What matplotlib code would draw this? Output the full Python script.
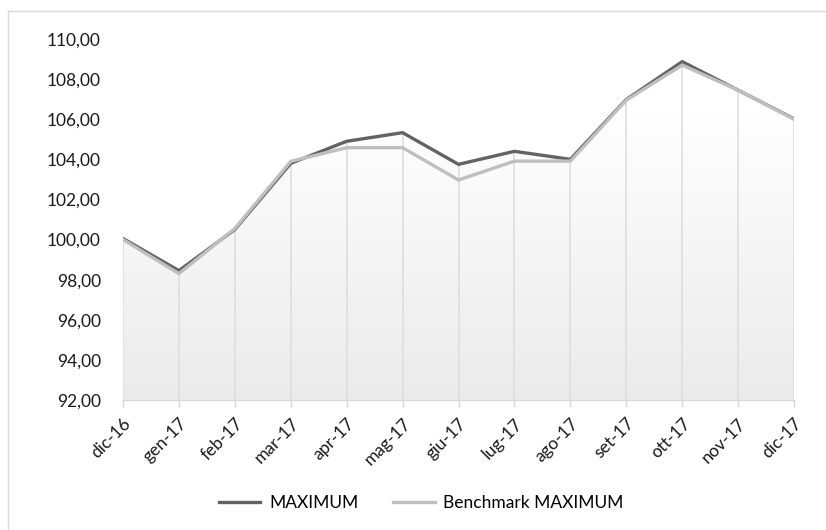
import matplotlib
matplotlib.use("Agg")
import matplotlib.pyplot as plt
import numpy as np
from matplotlib.colors import LinearSegmentedColormap
from matplotlib.lines import Line2D

categories = ["dic-16", "gen-17", "feb-17", "mar-17", "apr-17", "mag-17", "giu-17",
              "lug-17", "ago-17", "set-17", "ott-17", "nov-17", "dic-17"]
maximum = [100.05, 98.45, 100.50, 103.80, 104.90, 105.33, 103.75,
           104.40, 104.00, 106.98, 108.87, 107.45, 106.02]
benchmark = [100.00, 98.30, 100.55, 103.90, 104.58, 104.58, 102.97,
             103.91, 103.91, 106.95, 108.70, 107.45, 106.00]
yticks = [92, 94, 96, 98, 100, 102, 104, 106, 108, 110]

plt.rcParams['font.family'] = ['Lato', 'DejaVu Sans']

fig = plt.figure(figsize=(8.26, 5.30), dpi=100)
ax = fig.add_axes([0.1489, 0.2453, 0.9613 - 0.1489, 0.9264 - 0.2453])

x = np.arange(len(categories))
ax.set_xlim(x[0], x[-1])
ax.set_ylim(92, 110)

# gradient area under the lines
top = np.maximum(maximum, benchmark)
poly = ax.fill_between(x, top, 92, color='none', lw=0)
cmap = LinearSegmentedColormap.from_list('g', ['#ffffff', '#ebebeb'])
grad = np.linspace(0, 1, 256).reshape(-1, 1)
img = ax.imshow(grad, extent=[x[0], x[-1], 92, 106.5], origin='upper', cmap=cmap,
                aspect='auto', zorder=1)
img.set_clip_path(poly.get_paths()[0], transform=ax.transData)

# drop lines
for xi, ti in zip(x, top):
    ax.plot([xi, xi], [92, ti], color='#dedede', lw=1.2, zorder=2)

ax.plot(x, maximum, color='#636363', lw=2.4, zorder=3, solid_joinstyle='miter')
ax.plot(x, benchmark, color='#bfbfbf', lw=2.4, zorder=4, solid_joinstyle='miter')

for s in ['top', 'right', 'left']:
    ax.spines[s].set_visible(False)
ax.spines['bottom'].set_color('#d9d9d9')
ax.spines['bottom'].set_linewidth(1.0)
ax.spines['bottom'].set_zorder(5)

ax.set_yticks(yticks)
ax.set_yticklabels([f"{v:.2f}".replace('.', ',') for v in yticks], fontsize=12.5, color='#1a1a1a')
ax.tick_params(axis='y', length=0, pad=16)
ax.set_xticks(x)
ax.set_xticklabels(categories, rotation=45, ha='right', rotation_mode='anchor',
                   fontsize=12.5, color='#1a1a1a')
ax.tick_params(axis='x', length=5, color='#d9d9d9', width=1.0, pad=6)

handles = [Line2D([], [], color='#636363', lw=2.4), Line2D([], [], color='#bfbfbf', lw=2.4)]
fig.legend(handles, ['MAXIMUM', 'Benchmark MAXIMUM'], loc='center', bbox_to_anchor=(0.51, 1 - 503 / 530),
           ncol=2, frameon=False, fontsize=12.5, handlelength=2.4, handletextpad=0.5,
           columnspacing=2.0)

# outer border (top and left visible)
fig.add_artist(Line2D([8 / 826, 1], [1 - 11 / 530, 1 - 11 / 530], color='#d9d9d9', lw=1.0,
                      transform=fig.transFigure))
fig.add_artist(Line2D([8 / 826, 8 / 826], [0, 1 - 11 / 530], color='#d9d9d9', lw=1.0,
                      transform=fig.transFigure))

fig.savefig('out.png', dpi=100, facecolor='white')
